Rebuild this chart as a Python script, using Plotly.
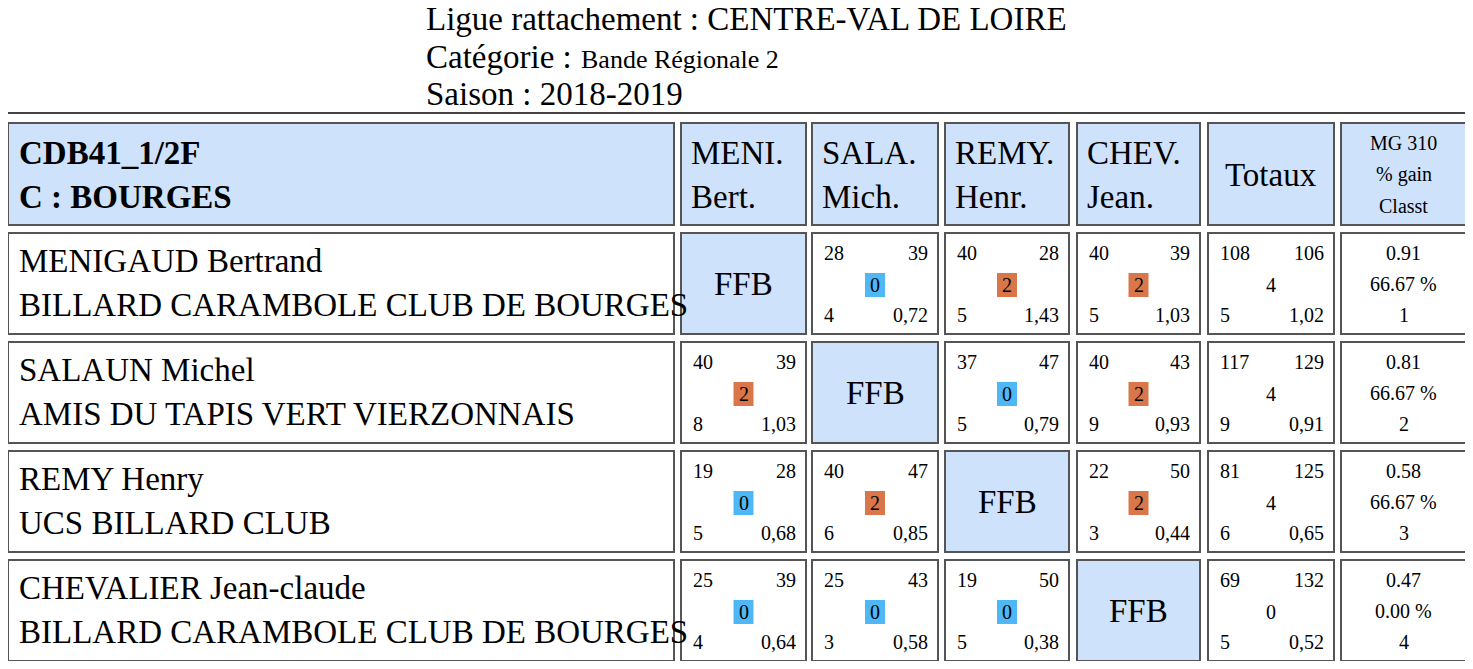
import plotly.graph_objects as go

title_lines = ["Ligue rattachement : CENTRE-VAL DE LOIRE", "Catégorie : ", "Saison : 2018-2019"]
categorie = "Bande Régionale 2"
group_label = ["CDB41_1/2F", "C : BOURGES"]
col_heads = [["MENI.", "Bert."], ["SALA.", "Mich."], ["REMY.", "Henr."], ["CHEV.", "Jean."]]
last_head = ["MG 310", "% gain", "Classt"]
players = ["MENIGAUD Bertrand", "SALAUN Michel", "REMY Henry", "CHEVALIER Jean-claude"]
clubs = ["BILLARD CARAMBOLE CLUB DE BOURGES", "AMIS DU TAPIS VERT VIERZONNAIS",
         "UCS BILLARD CLUB", "BILLARD CARAMBOLE CLUB DE BOURGES"]
# per match: points, distance, match points, reprises, average (None = FFB)
points = [[None, 28, 40, 40], [40, None, 37, 40], [19, 40, None, 22], [25, 25, 19, None]]
dist = [[None, 39, 28, 39], [39, None, 47, 43], [28, 47, None, 50], [39, 43, 50, None]]
mpts = [[None, 0, 2, 2], [2, None, 0, 2], [0, 2, None, 2], [0, 0, 0, None]]
reprises = [[None, 4, 5, 5], [8, None, 5, 9], [5, 6, None, 3], [4, 3, 5, None]]
avgs = [[None, "0,72", "1,43", "1,03"], ["1,03", None, "0,79", "0,93"],
        ["0,68", "0,85", None, "0,44"], ["0,64", "0,58", "0,38", None]]
tot_pts = [108, 117, 81, 69]
tot_dist = [106, 129, 125, 132]
tot_mp = [4, 4, 4, 0]
tot_rep = [5, 9, 6, 5]
tot_avg = ["1,02", "0,91", "0,65", "0,52"]
mg = ["0.91", "0.81", "0.58", "0.47"]
gain = ["66.67 %", "66.67 %", "66.67 %", "0.00 %"]
classt = ["1", "2", "3", "4"]

FONT = "Liberation Serif"
BIG, SMALL, MID = 32, 19, 24
BLUE = "#cfe2fb"
col_x = [(8, 674), (681, 806), (812, 938), (945, 1069), (1077, 1200), (1208, 1334), (1341, 1466)]
row_y = [(123, 225), (233, 334), (342, 443), (451, 552), (560, 661)]

shapes, ann = [], []
def txt(x, y, t, size, anchor="left", bold=False):
    ann.append(dict(x=x, y=y, text=f"<b>{t}</b>" if bold else t, showarrow=False, xanchor=anchor,
                    yanchor="middle", font=dict(family=FONT, size=size, color="black")))
def box(x0, y0, x1, y1, fill="white", lw=2, col="#555"):
    shapes.append(dict(type="rect", x0=x0, y0=y0, x1=x1, y1=y1, fillcolor=fill,
                       line=dict(color=col, width=lw), layer="below"))

txt(424, 19, title_lines[0], 28)
txt(424, 57, title_lines[1], 28)
txt(579, 59, categorie, 22)
txt(424, 94, title_lines[2], 28)

box(1, 113, 1471, 667, col="#444")
(x0, x1), (y0, y1) = col_x[0], row_y[0]
box(x0, y0, x1, y1, BLUE)
txt(17, 153, group_label[0], 28, bold=True)
txt(17, 197, group_label[1], 28, bold=True)
for j, h in enumerate(col_heads):
    x0, x1 = col_x[j + 1]
    box(x0, y0, x1, y1, BLUE)
    txt(x0 + 8, 153, h[0], 28)
    txt(x0 + 8, 197, h[1], 28)
x0, x1 = col_x[5]
box(x0, y0, x1, y1, BLUE)
txt((x0 + x1) / 2, 175, "Totaux", 28, "center")
x0, x1 = col_x[6]
box(x0, y0, x1, y1, BLUE)
for k, t in enumerate(last_head):
    txt((x0 + x1) / 2, 143 + 31.5 * k, t, 17, "center")

def small_cell(x0, x1, y0, tl, tr, c, bl, br, boxed):
    txt(x0 + 10, y0 + 20, str(tl), 17)
    txt(x1 - 8, y0 + 20, str(tr), 17, "right")
    cx = (x0 + x1) / 2
    if boxed:
        shapes.append(dict(type="rect", x0=cx - 10, x1=cx + 10, y0=y0 + 40, y1=y0 + 64,
                           fillcolor="#d9774a" if c == 2 else "#4db8f5", line=dict(width=0)))
    txt(cx, y0 + 52, str(c), 17, "center")
    txt(x0 + 10, y0 + 82, str(bl), 17)
    txt(x1 - 8, y0 + 82, str(br), 17, "right")

for i in range(4):
    y0, y1 = row_y[i + 1]
    x0, x1 = col_x[0]
    box(x0, y0, x1, y1)
    txt(17, y0 + 28, players[i], 28)
    txt(17, y0 + 72, clubs[i], 28)
    for j in range(4):
        x0, x1 = col_x[j + 1]
        if points[i][j] is None:
            box(x0, y0, x1, y1, BLUE)
            txt((x0 + x1) / 2, (y0 + y1) / 2, "FFB", 28, "center")
        else:
            box(x0, y0, x1, y1)
            small_cell(x0, x1, y0, points[i][j], dist[i][j], mpts[i][j], reprises[i][j], avgs[i][j], True)
    x0, x1 = col_x[5]
    box(x0, y0, x1, y1)
    small_cell(x0, x1, y0, tot_pts[i], tot_dist[i], tot_mp[i], tot_rep[i], tot_avg[i], False)
    x0, x1 = col_x[6]
    box(x0, y0, x1, y1)
    for k, t in enumerate([mg[i], gain[i], classt[i]]):
        txt((x0 + x1) / 2, y0 + 20 + 31 * k, t, 17, "center")

# scale annotation fonts to the reference glyph sizes
for a in ann:
    a["font"]["size"] = round(a["font"]["size"] * 1.17)

fig = go.Figure()
fig.update_layout(width=1457, height=653, margin=dict(l=0, r=0, t=0, b=0),
                  paper_bgcolor="white", plot_bgcolor="white", shapes=shapes, annotations=ann,
                  xaxis=dict(range=[8, 1465], visible=False, fixedrange=True),
                  yaxis=dict(range=[661, 8], visible=False, fixedrange=True), showlegend=False)
fig.write_html("out.html", config={"displayModeBar": False})
